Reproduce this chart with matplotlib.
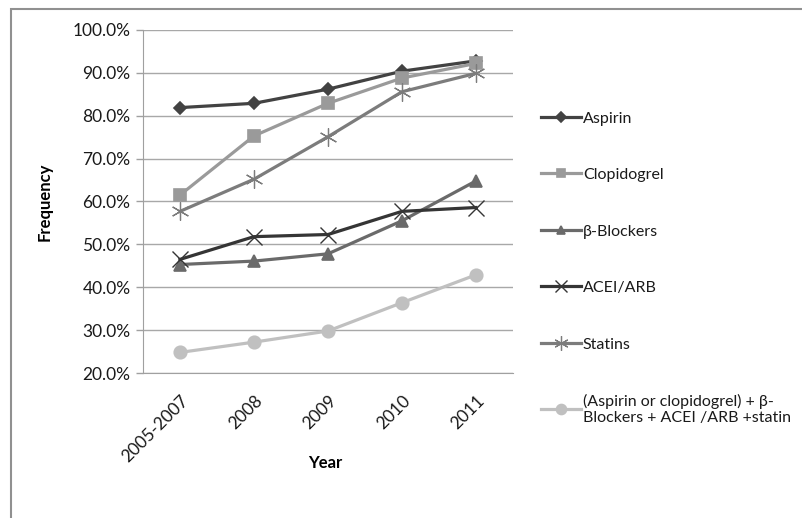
import numpy as np
import matplotlib.pyplot as plt
from matplotlib.patches import Rectangle
from matplotlib.ticker import PercentFormatter, MultipleLocator

plt.rcParams['font.family'] = ['Lato', 'DejaVu Sans']

years = ['2005-2007', '2008', '2009', '2010', '2011']
aspirin = [81.9, 82.9, 86.2, 90.4, 92.8]
clopidogrel = [61.5, 75.3, 82.9, 88.8, 92.2]
beta_blockers = [45.3, 46.1, 47.8, 55.5, 64.8]
acei_arb = [46.5, 51.8, 52.3, 57.7, 58.6]
statins = [57.7, 65.2, 75.1, 85.6, 89.9]
combined = [24.8, 27.2, 29.8, 36.4, 42.9]

# name, values, colour, marker, size, edge width
series = [
    ('Aspirin', aspirin, '#424242', 'D', 6, 1.2),
    ('Clopidogrel', clopidogrel, '#9a9a9a', 's', 8, 1.2),
    ('β-Blockers', beta_blockers, '#6a6a6a', '^', 8, 1.2),
    ('ACEI/ARB', acei_arb, '#353535', 'x', 11, 1.0),
    ('Statins', statins, '#7c7c7c', (6, 2, 0), 13, 0.9),
    ('(Aspirin or clopidogrel) + β-\nBlockers + ACEI /ARB +statin', combined, '#c0c0c0', 'o', 9, 1.2),
]

fig = plt.figure(figsize=(8.03, 5.18), dpi=100)
ax = fig.add_axes([143 / 803, 1 - 373 / 518, (513 - 143) / 803, (373 - 30) / 518])

x = np.arange(len(years))
for name, vals, col, mk, ms, mew in series:
    ax.plot(x, vals, color=col, lw=2.3, marker=mk, markersize=ms,
            markeredgecolor=col, markerfacecolor=col, markeredgewidth=mew, label=name)

ax.set_ylim(20, 100)
ax.set_xlim(-0.5, 4.5)
ax.yaxis.set_major_locator(MultipleLocator(10))
ax.yaxis.set_major_formatter(PercentFormatter(decimals=1))
ax.set_xticks(x)
ax.set_xticklabels(years, rotation=45, ha='right', rotation_mode='anchor')
ax.tick_params(axis='x', length=0, pad=14, labelsize=12.5, colors='#1a1a1a')
ax.tick_params(axis='y', length=5, width=1, color='#a0a0a0', labelsize=12.5,
               labelcolor='#1a1a1a', pad=4)
ax.grid(axis='y', color='#a8a8a8', lw=1)
ax.set_axisbelow(True)
for s in ['top', 'right']:
    ax.spines[s].set_visible(False)
ax.spines['left'].set_color('#a0a0a0')
ax.spines['bottom'].set_color('#a0a0a0')

ax.set_ylabel('Frequency', fontsize=12, fontweight='bold', labelpad=14)
fig.text(325 / 803, 1 - 463 / 518, 'Year', fontsize=12, fontweight='bold',
         ha='center', va='center')

leg = fig.legend(loc='upper left', bbox_to_anchor=(527 / 803, 1 - 97 / 518),
                 frameon=False, fontsize=11.5, handlelength=2.5,
                 handletextpad=0.1, labelspacing=2.65, markerscale=0.8)
for t in leg.get_texts():
    t.set_color('#1a1a1a')

fig.patches.append(Rectangle((11 / 803, -0.1), 1.2, 1 - 9 / 518 + 0.1,
                             transform=fig.transFigure, fill=False,
                             edgecolor='#909090', lw=1.5))

fig.savefig('out.png', dpi=100)
